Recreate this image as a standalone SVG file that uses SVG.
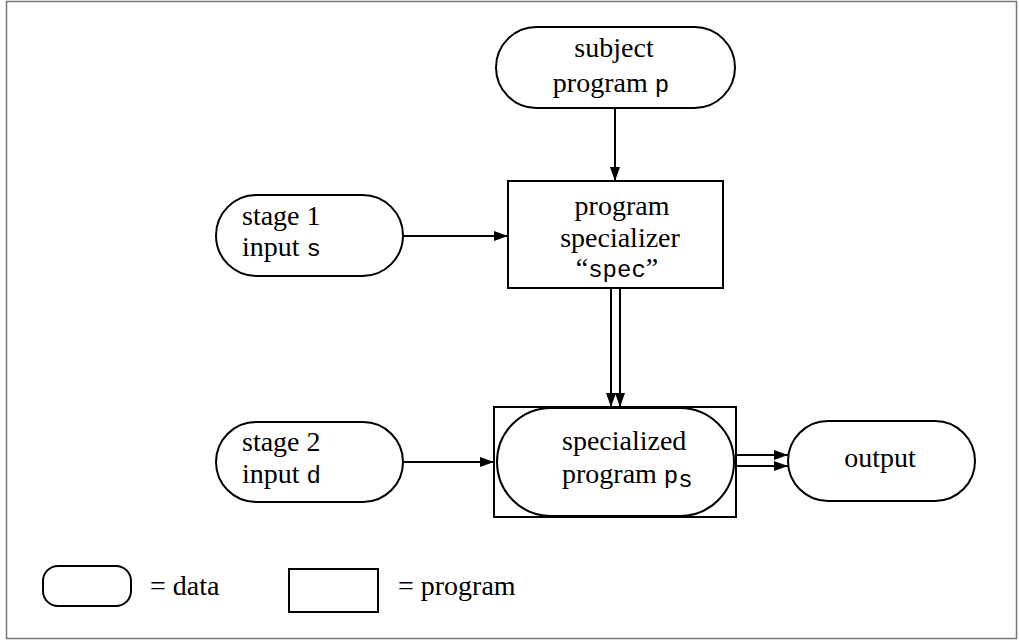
<svg xmlns="http://www.w3.org/2000/svg" width="1019" height="640" viewBox="0 0 1019 640">
<style>
.n{fill:#fff;stroke:#000;stroke-width:2}
.t{font-family:"Liberation Serif","Times New Roman",serif;font-size:28px;fill:#000}
.m{font-family:"Liberation Mono","DejaVu Sans Mono",monospace;font-size:24px}
.c{stroke:#000;stroke-width:2;fill:none}
</style>
<defs>
<marker id="ah" viewBox="0 0 14 10" refX="14" refY="5" markerWidth="14" markerHeight="10" markerUnits="userSpaceOnUse" orient="auto">
<path d="M0,0 L14,5 L0,10 Z" fill="#000"/>
</marker>
</defs>
<rect x="6.5" y="1.5" width="1010" height="637" fill="#fff" stroke="#777" stroke-width="1.5"/>
<g id="subject">
<rect class="n" x="496" y="27" width="239" height="81" rx="40.5"/>
<text class="t" x="614" y="57" text-anchor="middle">subject</text>
<text class="t" x="611" y="92" text-anchor="middle">program <tspan class="m">p</tspan></text>
</g>
<g id="stage1">
<rect class="n" x="216" y="195" width="187" height="81" rx="40.5"/>
<text class="t" x="242" y="225">stage 1</text>
<text class="t" x="242" y="256">input <tspan class="m">s</tspan></text>
</g>
<g id="spec">
<rect class="n" x="508" y="181" width="215" height="107"/>
<text class="t" x="622" y="215" text-anchor="middle">program</text>
<text class="t" x="620" y="247" text-anchor="middle">specializer</text>
<text class="t" x="617" y="277" text-anchor="middle">“<tspan class="m">spec</tspan>”</text>
</g>
<g id="stage2">
<rect class="n" x="216" y="422" width="187" height="80" rx="40"/>
<text class="t" x="242" y="451">stage 2</text>
<text class="t" x="242" y="483">input <tspan class="m">d</tspan></text>
</g>
<g id="specialized">
<rect class="n" x="494" y="407" width="242" height="110"/>
<rect class="n" x="497" y="408" width="237" height="108" rx="54"/>
<text class="t" x="562" y="450">specialized</text>
<text class="t" x="562" y="483">program <tspan class="m">p</tspan><tspan class="m" font-size="14" dy="4">s</tspan></text>
</g>
<g id="output">
<rect class="n" x="788" y="421" width="187" height="80" rx="40"/>
<text class="t" x="880" y="467" text-anchor="middle">output</text>
</g>
<g id="legend">
<rect class="n" x="43" y="566" width="88" height="40" rx="15"/>
<text class="t" x="150" y="595">= data</text>
<rect class="n" x="289" y="569" width="89" height="43"/>
<text class="t" x="398" y="595">= program</text>
</g>
<g id="connectors">
<line class="c" x1="615" y1="108" x2="615" y2="181" marker-end="url(#ah)"/>
<line class="c" x1="403" y1="236" x2="508" y2="236" marker-end="url(#ah)"/>
<line class="c" x1="611" y1="288" x2="611" y2="407" marker-end="url(#ah)"/>
<line class="c" x1="620" y1="288" x2="620" y2="407" marker-end="url(#ah)"/>
<line class="c" x1="403" y1="462" x2="494" y2="462" marker-end="url(#ah)"/>
<line class="c" x1="736" y1="455" x2="788" y2="455" marker-end="url(#ah)"/>
<line class="c" x1="736" y1="466" x2="788" y2="466" marker-end="url(#ah)"/>
</g>
</svg>
